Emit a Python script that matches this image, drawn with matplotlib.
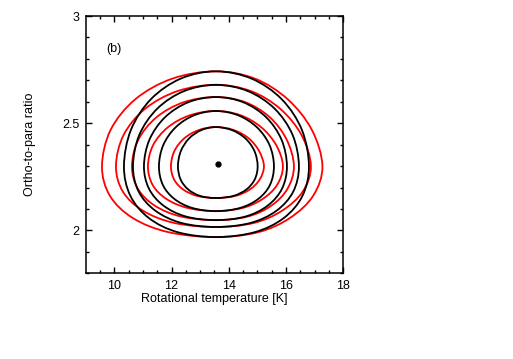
import numpy as np
import matplotlib
matplotlib.use('Agg')
import matplotlib.pyplot as plt
from matplotlib.path import Path
from matplotlib.patches import PathPatch

plt.rcParams['font.family'] = ['Liberation Sans', 'DejaVu Sans']

# best-fit point
best_t = 13.62
best_opr = 2.308

# confidence contours (innermost first)
black_x = [
    [15.010, 14.899, 14.583, 14.111, 13.553, 13.044, 12.614, 12.326, 12.225, 12.317, 12.584, 12.998, 13.553, 14.162, 14.617, 14.909],
    [15.580, 15.426, 14.986, 14.329, 13.553, 12.790, 12.145, 11.712, 11.561, 11.698, 12.099, 12.720, 13.553, 14.400, 15.033, 15.440],
    [16.034, 15.845, 15.307, 14.503, 13.553, 12.589, 11.774, 11.228, 11.037, 11.211, 11.716, 12.501, 13.553, 14.590, 15.364, 15.863],
    [16.453, 16.233, 15.603, 14.664, 13.553, 12.442, 11.503, 10.873, 10.653, 10.853, 11.436, 12.341, 13.553, 14.765, 15.670, 16.253],
    [16.803, 16.556, 15.851, 14.798, 13.553, 12.322, 11.280, 10.582, 10.338, 10.560, 11.206, 12.209, 13.553, 14.912, 15.926, 16.579],
]
black_y = [
    [2.300, 2.370, 2.429, 2.468, 2.482, 2.468, 2.429, 2.370, 2.300, 2.238, 2.191, 2.161, 2.151, 2.161, 2.191, 2.238],
    [2.300, 2.398, 2.481, 2.537, 2.557, 2.537, 2.481, 2.398, 2.300, 2.212, 2.147, 2.105, 2.090, 2.105, 2.147, 2.212],
    [2.300, 2.423, 2.528, 2.598, 2.622, 2.598, 2.528, 2.423, 2.300, 2.195, 2.116, 2.065, 2.048, 2.065, 2.116, 2.195],
    [2.300, 2.445, 2.568, 2.650, 2.679, 2.650, 2.568, 2.445, 2.300, 2.181, 2.092, 2.035, 2.016, 2.035, 2.092, 2.181],
    [2.300, 2.469, 2.612, 2.708, 2.742, 2.708, 2.612, 2.469, 2.300, 2.162, 2.058, 1.992, 1.969, 1.992, 2.058, 2.162],
]
red_x = [
    [15.230, 15.062, 14.701, 14.178, 13.553, 12.951, 12.442, 12.100, 11.981, 12.089, 12.405, 12.896, 13.553, 14.233, 14.737, 15.083],
    [15.894, 15.658, 15.137, 14.415, 13.553, 12.643, 11.873, 11.358, 11.177, 11.341, 11.819, 12.560, 13.553, 14.491, 15.188, 15.689],
    [16.278, 16.026, 15.434, 14.575, 13.553, 12.429, 11.478, 10.841, 10.618, 10.821, 11.410, 12.326, 13.553, 14.666, 15.493, 16.056],
    [16.872, 16.543, 15.792, 14.769, 13.553, 12.215, 11.083, 10.325, 10.059, 10.300, 11.002, 12.093, 13.553, 14.878, 15.863, 16.585],
    [17.274, 16.904, 16.058, 14.913, 13.553, 12.028, 10.737, 9.873, 9.570, 9.845, 10.645, 11.888, 13.553, 15.035, 16.138, 16.952],
]
red_y = black_y

xticks = [10, 12, 14, 16, 18]
yticks = [2, 2.5, 3]
ytick_labels = ['2', '2.5', '3']


def closed_curve(xs, ys):
    # smooth closed curve through the read points (Catmull-Rom as cubic Bezier)
    p = np.column_stack([xs, ys])
    n = len(p)
    verts = [p[0]]
    codes = [Path.MOVETO]
    for i in range(n):
        p0, p1, p2, p3 = p[i - 1], p[i], p[(i + 1) % n], p[(i + 2) % n]
        verts += [p1 + (p2 - p0) / 6, p2 - (p3 - p1) / 6, p2]
        codes += [Path.CURVE4] * 3
    return Path(verts, codes)


fig = plt.figure(figsize=(5.13, 3.59), dpi=100)
ax = fig.add_axes([0.167, 0.2387, 0.502, 0.7167])

for xs, ys in zip(red_x, red_y):
    ax.add_patch(PathPatch(closed_curve(xs, ys), fill=False, edgecolor='red', lw=1.3))
for xs, ys in zip(black_x, black_y):
    ax.add_patch(PathPatch(closed_curve(xs, ys), fill=False, edgecolor='black', lw=1.3))

ax.plot([best_t], [best_opr], 'o', color='black', markersize=3.5)
ax.text(10, 2.846, '(b)', ha='center', va='center', fontsize=9)

ax.set_xlim(9, 18)
ax.set_ylim(1.8, 3)
ax.set_xticks(xticks)
ax.set_xticks(np.arange(9.5, 18, 0.5), minor=True)
ax.set_yticks(yticks)
ax.set_yticklabels(ytick_labels)
ax.set_yticks(np.arange(1.8, 3.0, 0.1), minor=True)
ax.tick_params(which='both', direction='in', top=True, right=True, labelsize=9, width=1)
ax.tick_params(which='major', length=4.5, pad=4.5)
ax.tick_params(which='minor', length=2.5)
for s in ax.spines.values():
    s.set_linewidth(1.1)

ax.set_xlabel('Rotational temperature [K]', fontsize=9, labelpad=1)
ax.set_ylabel('Ortho-to-para ratio', fontsize=9, labelpad=19)

fig.savefig('out.png', dpi=100)
